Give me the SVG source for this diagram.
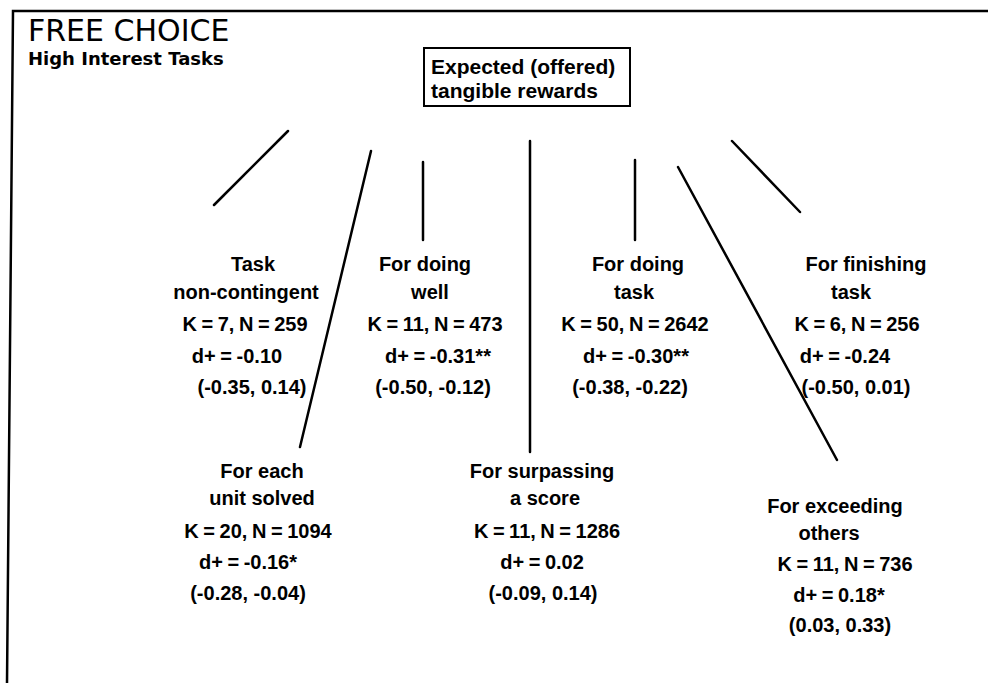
<svg xmlns="http://www.w3.org/2000/svg" width="988" height="683" viewBox="0 0 988 683">
<style>
.t{font-family:"Liberation Sans",Arial,sans-serif;font-weight:bold;font-size:20px;fill:#000;text-anchor:middle}
.n{word-spacing:-1px}
.c{stroke:#000;stroke-width:2.5;fill:none;stroke-linecap:round}
</style>
<rect width="988" height="683" fill="#fff"/>
<g id="frame">
<path d="M7,683 L13,11 L988,11" fill="none" stroke="#000" stroke-width="2.5"/>
</g>
<g id="title">
<text x="28" y="41" style="font-family:'DejaVu Sans',Verdana,sans-serif;font-size:30px">FREE CHOICE</text>
<text x="28" y="65" style="font-family:'DejaVu Sans',Verdana,sans-serif;font-size:18px;font-weight:bold">High Interest Tasks</text>
</g>
<g id="root">
<rect x="424" y="48" width="206" height="58" fill="none" stroke="#000" stroke-width="2"/>
<text class="t" x="431" y="74" style="font-size:21px;text-anchor:start">Expected (offered)</text>
<text class="t" x="431" y="98" style="font-size:21px;text-anchor:start">tangible rewards</text>
</g>
<g id="connectors">
<line class="c" x1="288" y1="131" x2="214" y2="205"/>
<line class="c" x1="371" y1="151" x2="300" y2="447"/>
<line class="c" x1="423" y1="162" x2="423" y2="240"/>
<line class="c" x1="530" y1="141" x2="530" y2="452"/>
<line class="c" x1="635" y1="160" x2="635" y2="240"/>
<line class="c" x1="678" y1="167" x2="837" y2="460"/>
<line class="c" x1="732" y1="141" x2="800" y2="212"/>
</g>
<g id="task-noncontingent">
<text class="t" x="253" y="271">Task</text>
<text class="t" x="246" y="299">non-contingent</text>
<text class="t n" x="245" y="331">K = 7, N = 259</text>
<text class="t n" x="237" y="363">d+ = -0.10</text>
<text class="t" x="252" y="394">(-0.35, 0.14)</text>
</g>
<g id="doing-well">
<text class="t" x="425" y="271">For doing</text>
<text class="t" x="430" y="299">well</text>
<text class="t n" x="435" y="331">K = 11, N = 473</text>
<text class="t n" x="438" y="363">d+ = -0.31**</text>
<text class="t" x="433" y="394">(-0.50, -0.12)</text>
</g>
<g id="doing-task">
<text class="t" x="638" y="271">For doing</text>
<text class="t" x="634" y="299">task</text>
<text class="t n" x="635" y="331">K = 50, N = 2642</text>
<text class="t n" x="636" y="363">d+ = -0.30**</text>
<text class="t" x="630" y="394">(-0.38, -0.22)</text>
</g>
<g id="finishing-task">
<text class="t" x="866" y="271">For finishing</text>
<text class="t" x="851" y="299">task</text>
<text class="t n" x="857" y="331">K = 6, N = 256</text>
<text class="t n" x="845" y="363">d+ = -0.24</text>
<text class="t" x="856" y="394">(-0.50, 0.01)</text>
</g>
<g id="each-unit">
<text class="t" x="262" y="478">For each</text>
<text class="t" x="262" y="505">unit solved</text>
<text class="t n" x="258" y="538">K = 20, N = 1094</text>
<text class="t n" x="248" y="569">d+ = -0.16*</text>
<text class="t" x="248" y="600">(-0.28, -0.04)</text>
</g>
<g id="surpassing-score">
<text class="t" x="542" y="478">For surpassing</text>
<text class="t" x="545" y="505">a score</text>
<text class="t n" x="547" y="538">K = 11, N = 1286</text>
<text class="t n" x="542" y="569">d+ = 0.02</text>
<text class="t" x="543" y="600">(-0.09, 0.14)</text>
</g>
<g id="exceeding-others">
<text class="t" x="835" y="513">For exceeding</text>
<text class="t" x="829" y="540">others</text>
<text class="t n" x="845" y="571">K = 11, N = 736</text>
<text class="t n" x="839" y="602">d+ = 0.18*</text>
<text class="t" x="840" y="632">(0.03, 0.33)</text>
</g>
</svg>
